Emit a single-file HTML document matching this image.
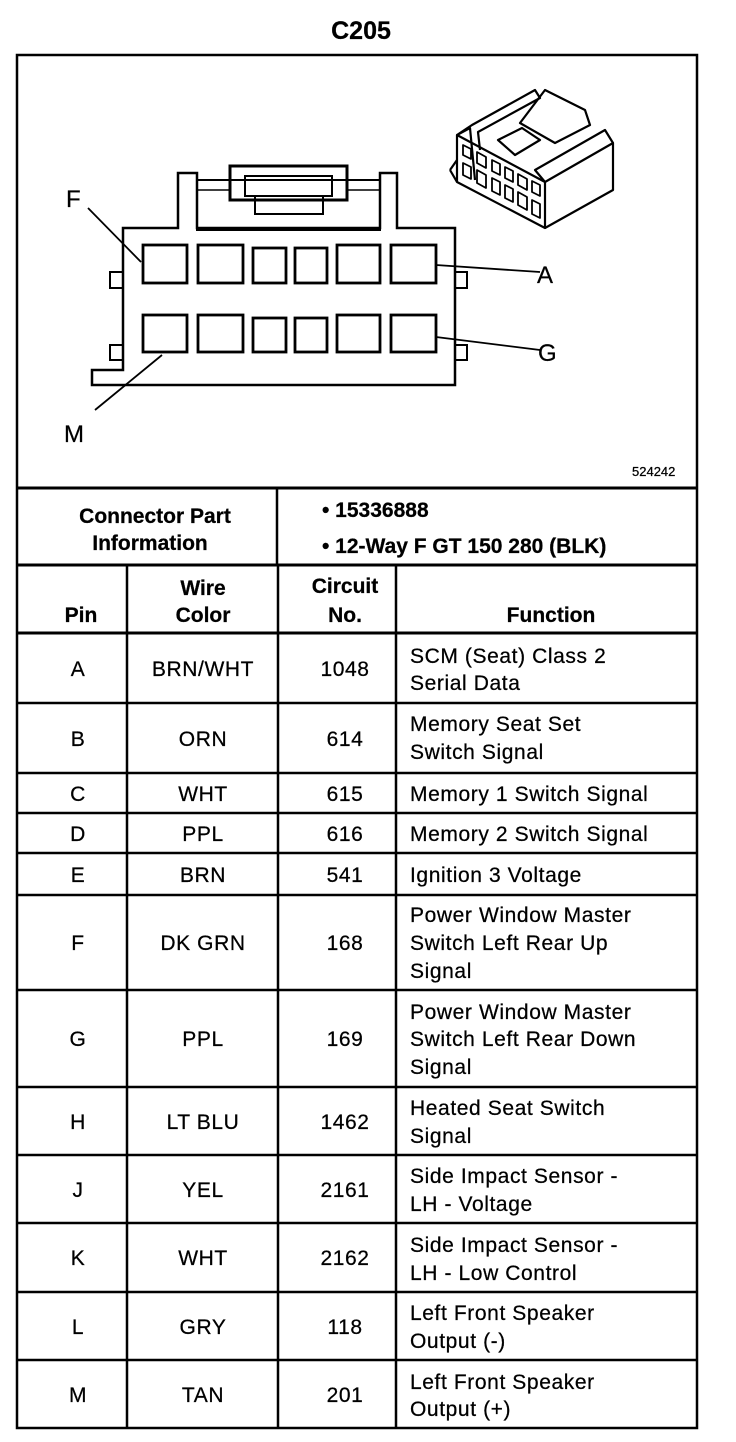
<!DOCTYPE html>
<html><head><meta charset="utf-8"><style>
html,body{margin:0;padding:0;background:#fff;}
svg{display:block}
text{font-family:"Liberation Sans",Arial,sans-serif;fill:#000;stroke:#000;stroke-width:0.25}
.b{font-weight:bold}
.t{font-size:21px;letter-spacing:0.6px}
</style></head><body>
<svg width="736" height="1442" viewBox="0 0 736 1442" xmlns="http://www.w3.org/2000/svg">
<text x="361" y="39" class="b" font-size="25" text-anchor="middle">C205</text>
<g fill="none" stroke="#000" stroke-width="2.5">
<rect x="17" y="55" width="680" height="1373"/>
<line x1="17" y1="488" x2="697" y2="488" stroke-width="3"/>
<line x1="277" y1="488" x2="277" y2="565"/>
<line x1="17" y1="565" x2="697" y2="565" stroke-width="3"/>
<line x1="127" y1="565" x2="127" y2="1428"/>
<line x1="278" y1="565" x2="278" y2="1428"/>
<line x1="396" y1="565" x2="396" y2="1428"/>
<line x1="17" y1="633" x2="697" y2="633" stroke-width="3"/>
<line x1="17" y1="703" x2="697" y2="703"/>
<line x1="17" y1="773" x2="697" y2="773"/>
<line x1="17" y1="813" x2="697" y2="813"/>
<line x1="17" y1="853" x2="697" y2="853"/>
<line x1="17" y1="895" x2="697" y2="895"/>
<line x1="17" y1="990" x2="697" y2="990"/>
<line x1="17" y1="1087" x2="697" y2="1087"/>
<line x1="17" y1="1155" x2="697" y2="1155"/>
<line x1="17" y1="1223" x2="697" y2="1223"/>
<line x1="17" y1="1292" x2="697" y2="1292"/>
<line x1="17" y1="1360" x2="697" y2="1360"/>
</g>
<g fill="none" stroke="#000" stroke-width="2.5">
<path d="M123,228 H178 V173 H197 V228 H380 V173 H397 V228 H455 V385 H92 V370 H123 Z"/>
<rect x="197" y="180" width="183" height="50" stroke-width="2"/>
<rect x="230" y="166" width="117" height="34" stroke-width="3"/>
<rect x="245" y="176" width="87" height="20" stroke-width="2"/>
<rect x="255" y="196" width="68" height="18" stroke-width="2"/>
<line x1="197" y1="190" x2="230" y2="190" stroke-width="1.5"/>
<line x1="347" y1="190" x2="380" y2="190" stroke-width="1.5"/>
<path d="M123,272 H110 V288 H123 M123,345 H110 V360 H123 M455,272 H467 V288 H455 M455,345 H467 V360 H455" stroke-width="2"/>
<g stroke-width="2.8">
<rect x="143" y="245" width="44" height="38"/><rect x="198" y="245" width="45" height="38"/><rect x="253" y="248" width="33" height="35"/><rect x="295" y="248" width="32" height="35"/><rect x="337" y="245" width="43" height="38"/><rect x="391" y="245" width="45" height="38"/>
<rect x="143" y="315" width="44" height="37"/><rect x="198" y="315" width="45" height="37"/><rect x="253" y="318" width="33" height="34"/><rect x="295" y="318" width="32" height="34"/><rect x="337" y="315" width="43" height="37"/><rect x="391" y="315" width="45" height="37"/>
</g>
<g stroke-width="1.8">
<line x1="88" y1="208" x2="141" y2="262"/>
<line x1="436" y1="265" x2="540" y2="272"/>
<line x1="436" y1="337" x2="540" y2="350"/>
<line x1="162" y1="355" x2="95" y2="410"/>
</g>
</g>
<text x="66" y="207" font-size="24">F</text>
<text x="537" y="283" font-size="24">A</text>
<text x="538" y="361" font-size="24">G</text>
<text x="64" y="442" font-size="24">M</text>
<text x="632" y="476" font-size="13">524242</text>
<g fill="none" stroke="#000" stroke-width="2.2" stroke-linejoin="round">
<path d="M457,135 L545,182 L545,228 L457,182 Z"/>
<path d="M545,182 L613,143 L613,190 L545,228"/>
<path d="M457,135 L470,128 L475,180 M457,135 L472,125 L535,90 L540,98 L478,132 L480,150"/>
<path d="M545,182 L535,170 L605,130 L613,143"/>
<path d="M545,90 L585,110 L590,125 L555,143 L520,123 Z"/>
<path d="M498,140 L522,128 L540,140 L515,155 Z"/>
<path d="M450,170 L457,160 M450,170 L457,182"/>
<g stroke-width="1.8">
<path d="M463,145 l8,4 v10 l-8,-4 z M477,152 l9,5 v11 l-9,-5 z M492,160 l8,4 v11 l-8,-4 z M505,167 l8,4 v11 l-8,-4 z M518,174 l9,5 v11 l-9,-5 z M532,181 l8,4 v11 l-8,-4 z"/>
<path d="M463,163 l8,4 v12 l-8,-4 z M477,170 l9,5 v13 l-9,-5 z M492,178 l8,4 v13 l-8,-4 z M505,185 l8,4 v13 l-8,-4 z M518,192 l9,5 v13 l-9,-5 z M532,200 l8,4 v14 l-8,-4 z"/>
</g>
</g>
<text x="155" y="523" class="b" font-size="21" text-anchor="middle">Connector Part</text>
<text x="150" y="550" class="b" font-size="21" text-anchor="middle">Information</text>
<text x="322" y="517" class="b" font-size="21">• 15336888</text>
<text x="322" y="553" class="b" font-size="21">• 12-Way F GT 150 280 (BLK)</text>
<g class="b" font-size="21" text-anchor="middle">
<text x="81" y="622">Pin</text>
<text x="203" y="595">Wire</text><text x="203" y="622">Color</text>
<text x="345" y="593">Circuit</text><text x="345" y="622">No.</text>
<text x="551" y="622">Function</text>
</g>
<g class="t" text-anchor="middle">
<text x="78" y="676">A</text><text x="203" y="676">BRN/WHT</text><text x="345" y="676">1048</text>
<text x="78" y="746">B</text><text x="203" y="746">ORN</text><text x="345" y="746">614</text>
<text x="78" y="801">C</text><text x="203" y="801">WHT</text><text x="345" y="801">615</text>
<text x="78" y="841">D</text><text x="203" y="841">PPL</text><text x="345" y="841">616</text>
<text x="78" y="882">E</text><text x="203" y="882">BRN</text><text x="345" y="882">541</text>
<text x="78" y="950">F</text><text x="203" y="950">DK GRN</text><text x="345" y="950">168</text>
<text x="78" y="1046">G</text><text x="203" y="1046">PPL</text><text x="345" y="1046">169</text>
<text x="78" y="1129">H</text><text x="203" y="1129">LT BLU</text><text x="345" y="1129">1462</text>
<text x="78" y="1197">J</text><text x="203" y="1197">YEL</text><text x="345" y="1197">2161</text>
<text x="78" y="1265">K</text><text x="203" y="1265">WHT</text><text x="345" y="1265">2162</text>
<text x="78" y="1334">L</text><text x="203" y="1334">GRY</text><text x="345" y="1334">118</text>
<text x="78" y="1402">M</text><text x="203" y="1402">TAN</text><text x="345" y="1402">201</text>
</g>
<g class="t">
<text x="410" y="663">SCM (Seat) Class 2</text><text x="410" y="690">Serial Data</text>
<text x="410" y="731">Memory Seat Set</text><text x="410" y="759">Switch Signal</text>
<text x="410" y="801">Memory 1 Switch Signal</text>
<text x="410" y="841">Memory 2 Switch Signal</text>
<text x="410" y="882">Ignition 3 Voltage</text>
<text x="410" y="922">Power Window Master</text><text x="410" y="950">Switch Left Rear Up</text><text x="410" y="978">Signal</text>
<text x="410" y="1019">Power Window Master</text><text x="410" y="1046">Switch Left Rear Down</text><text x="410" y="1074">Signal</text>
<text x="410" y="1115">Heated Seat Switch</text><text x="410" y="1143">Signal</text>
<text x="410" y="1183">Side Impact Sensor -</text><text x="410" y="1211">LH - Voltage</text>
<text x="410" y="1252">Side Impact Sensor -</text><text x="410" y="1280">LH - Low Control</text>
<text x="410" y="1320">Left Front Speaker</text><text x="410" y="1348">Output (-)</text>
<text x="410" y="1389">Left Front Speaker</text><text x="410" y="1416">Output (+)</text>
</g>
</svg>
</body></html>
